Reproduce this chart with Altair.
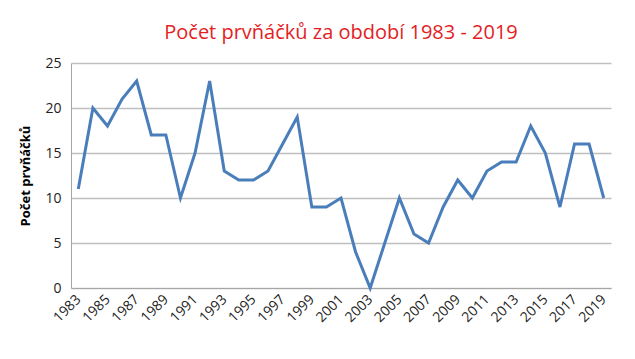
import altair as alt
import pandas as pd

years = [str(y) for y in range(1983, 2020)]
counts = [11, 20, 18, 21, 23, 17, 17, 10, 15, 23, 13, 12, 12, 13, 16, 19, 9, 9, 10, 4,
          0, 5, 10, 6, 5, 9, 12, 10, 13, 14, 14, 18, 15, 9, 16, 16, 10]
label_years = [str(y) for y in range(1983, 2020, 2)]

df = pd.DataFrame({"rok": years, "pocet": counts})

chart = alt.Chart(df).mark_line(color="#4a7ebb", strokeWidth=3).encode(
    x=alt.X("rok:O", title=None, sort=years,
            scale=alt.Scale(type="point", padding=0.5),
            axis=alt.Axis(values=label_years, labelAngle=-45, labelAlign="right",
                          labelBaseline="middle", labelFontSize=14, labelColor="#222222",
                          labelFont="Open Sans", ticks=False, domainColor="#a6a6a6",
                          labelPadding=9, grid=False)),
    y=alt.Y("pocet:Q", title="Počet prvňáčků",
            scale=alt.Scale(domain=[0, 25], nice=False),
            axis=alt.Axis(values=[0, 5, 10, 15, 20, 25], labelFontSize=14,
                          labelColor="#222222", labelFont="Open Sans", ticks=False,
                          labelPadding=10, domainColor="#a6a6a6", gridColor="#bfbfbf",
                          gridWidth=1.3, titleFont="Open Sans", titleFontSize=13,
                          titleFontWeight="bold", titleColor="#000000", titlePadding=12)),
).properties(
    width=540, height=225,
    title=alt.TitleParams("Počet prvňáčků za období 1983 - 2019", color="#e31e24",
                          font="Open Sans", fontSize=20, fontWeight="normal",
                          anchor="middle", offset=13),
    autosize=alt.AutoSizeParams(type="none"),
    padding={"left": 63, "top": 55, "right": 10, "bottom": 60},
).configure_view(stroke=None)

chart.save("out.html", embed_options={"renderer": "svg", "actions": False})
